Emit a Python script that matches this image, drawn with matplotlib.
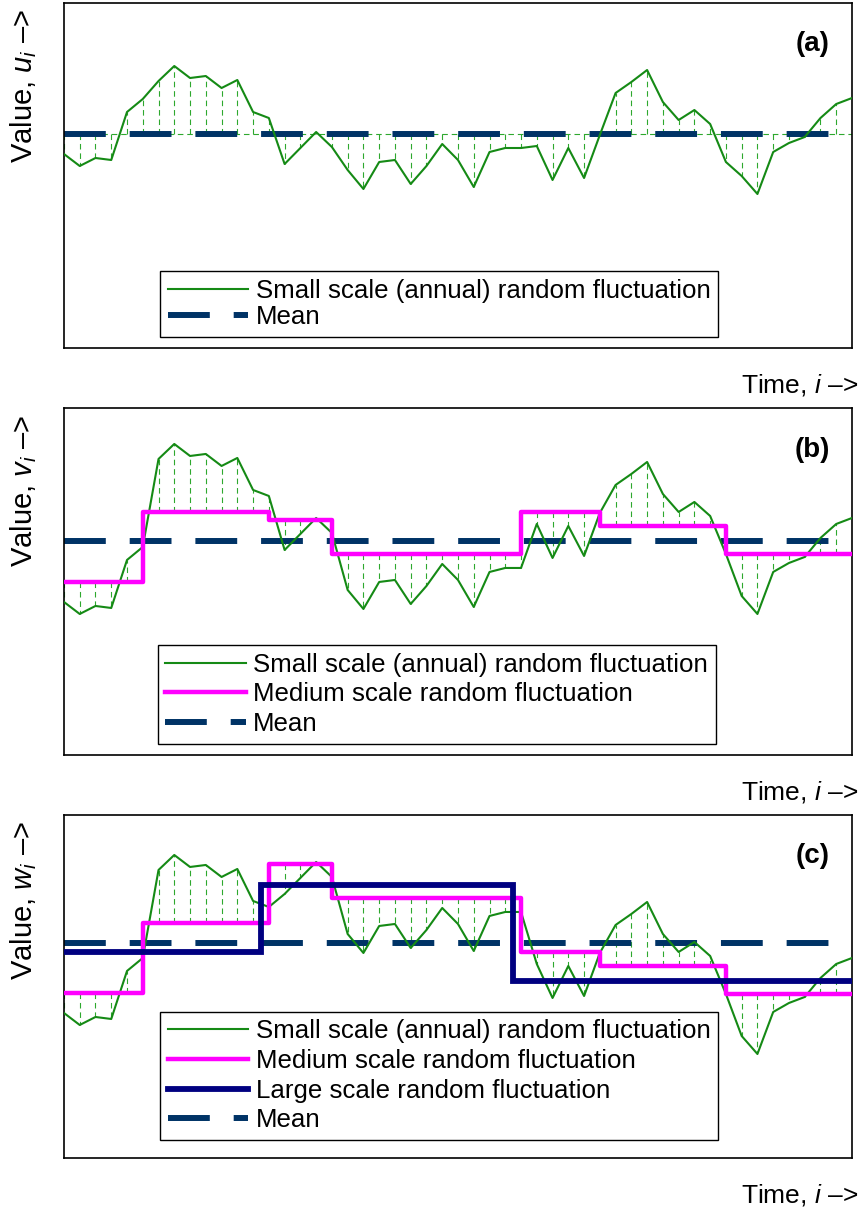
import numpy as np
import matplotlib.pyplot as plt

plt.rcParams['font.family'] = ['Liberation Sans', 'DejaVu Sans']
plt.rcParams['mathtext.fontset'] = 'custom'
plt.rcParams['mathtext.rm'] = 'Liberation Sans'
plt.rcParams['mathtext.it'] = 'Liberation Sans:italic'
plt.rcParams['mathtext.bf'] = 'Liberation Sans:bold'

# time index i
years = np.arange(51)

# small scale (annual) fluctuation about the mean
small = np.array([-2.0, -3.2, -2.4, -2.6, 2.2, 3.5, 5.3, 6.8, 5.6, 5.8,
                  4.6, 5.4, 2.2, 1.6, -3.0, -1.4, 0.2, -1.3, -3.6, -5.5,
                  -2.8, -2.6, -5.0, -3.2, -1.0, -2.6, -5.3, -1.8, -1.4, -1.4,
                  -1.2, -4.6, -1.4, -4.4, -0.1, 4.1, 5.2, 6.4, 3.2, 1.4,
                  2.4, 1.0, -2.8, -4.2, -6.0, -1.8, -0.9, -0.3, 1.6, 3.0, 3.6])

# medium scale fluctuation, each level held up to its end index
medium_ends = [5, 13, 17, 29, 34, 42, 50]
medium_levels = [-4.1, 2.9, 2.1, -1.3, 2.9, 1.5, -1.3]

# large scale fluctuation, each level held up to its end index
large_ends = [13, 29, 50]
large_levels = [-0.9, 5.8, -3.8]

mean = 0.0

medium = np.repeat(medium_levels, np.diff([-1] + medium_ends))
large = np.repeat(large_levels, np.diff([-1] + large_ends))
large_edges = [0] + [e - 0.5 for e in large_ends[:-1]] + [years[-1]]

GREEN = '#158a15'
DROP = '#2ea82e'
MAGENTA = '#ff00ff'
NAVY = '#000080'
MEANC = '#003366'
FS = 19

fig = plt.figure(figsize=(8.62, 12.07), dpi=100)
boxes = [[0.0742, 0.7117, 0.9142, 0.2858],
         [0.0742, 0.3745, 0.9142, 0.2875],
         [0.0742, 0.0406, 0.9142, 0.2842]]
ylims = [(-21.4, 13.1), (-21.4, 13.3), (-21.5, 12.8)]
tags = ['(a)', '(b)', '(c)']
names = ['u', 'v', 'w']
leg_pos = [(0.122, 0.032), (0.119, 0.032), (0.122, 0.052)]
leg_space = [0.1, 0.22, 0.22]

for k in range(3):
    ax = fig.add_axes(boxes[k])
    if k == 0:
        base = np.full(len(years), mean)
    elif k == 1:
        base = medium + mean
    else:
        base = medium + large + mean
    series = small + base

    # dashed drop lines from each point to its reference level
    ax.vlines(years, base, series, colors=DROP, lw=0.8,
              linestyles=(0, (5, 3.5)), zorder=1)
    ax.plot(years, base, color=DROP, lw=0.8, ls=(0, (5, 3.5)),
            drawstyle='steps-pre', zorder=1)

    handles = []
    h_small, = ax.plot(years, series, color=GREEN, lw=1.5, zorder=3,
                       label='Small scale (annual) random fluctuation')
    handles.append(h_small)
    if k >= 1:
        h_med, = ax.plot(years, base, color=MAGENTA, lw=3.2,
                         drawstyle='steps-pre', zorder=4,
                         label='Medium scale random fluctuation')
        handles.append(h_med)
    if k == 2:
        h_large = ax.stairs(large_levels, large_edges, baseline=None,
                            color=NAVY, lw=4.2, zorder=5,
                            label='Large scale random fluctuation')
        handles.append(h_large)
    h_mean = ax.axhline(mean, color=MEANC, lw=4.3, ls=(0, (7, 4)),
                        zorder=2, label='Mean')
    handles.append(h_mean)

    ax.set_xlim(years[0], years[-1])
    ax.set_ylim(*ylims[k])
    ax.set_xticks([])
    ax.set_yticks([])
    for s in ax.spines.values():
        s.set_linewidth(1.2)

    ax.text(0.972, 0.88, tags[k], transform=ax.transAxes, ha='right',
            va='center', fontsize=FS + 1, fontweight='bold')
    ax.text(-0.0508, 0.982, 'Value, $%s_i$ –>' % names[k],
            transform=ax.transAxes, rotation=90, ha='center', va='top',
            fontsize=FS + 2)
    ax.text(1.0076, -0.107, 'Time, $i$ –>', transform=ax.transAxes,
            ha='right', va='center', fontsize=FS)

    leg = ax.legend(handles=handles, loc='lower left',
                    bbox_to_anchor=leg_pos[k], borderaxespad=0,
                    fontsize=18.6, handlelength=3.1, handletextpad=0.3,
                    borderpad=0.3, labelspacing=leg_space[k],
                    fancybox=False, framealpha=1, edgecolor='black')
    leg.get_frame().set_linewidth(1.0)

fig.savefig('out.png', dpi=100)
